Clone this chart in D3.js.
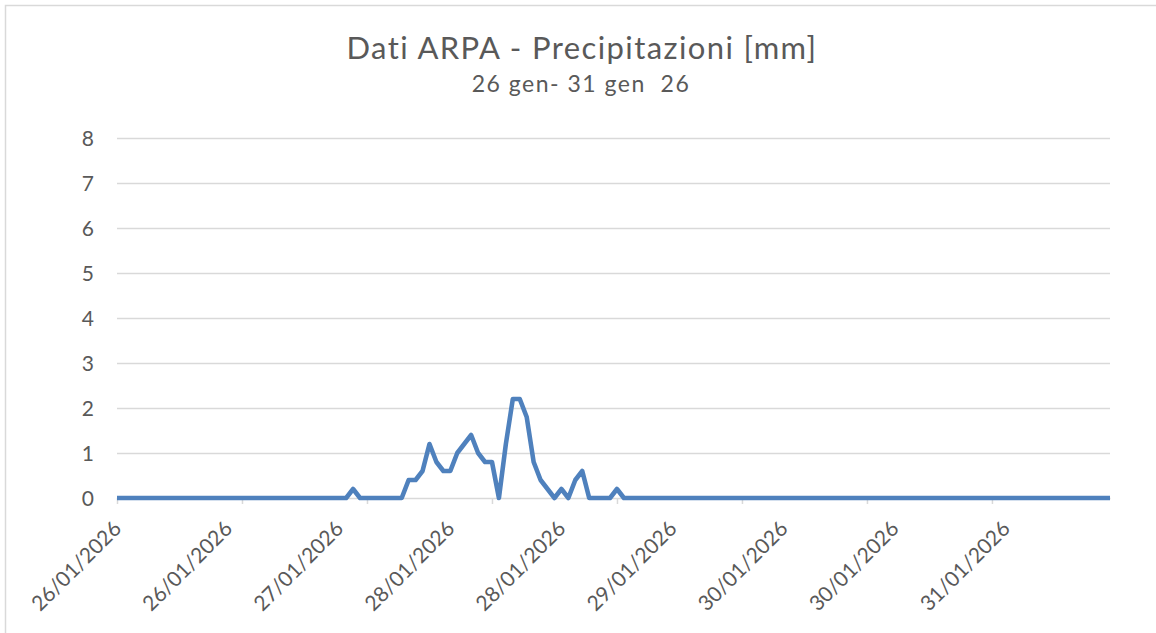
<!DOCTYPE html>
<html>
<head>
<meta charset="utf-8">
<script src="https://cdn.jsdelivr.net/npm/d3@7"></script>
<style>
  html, body { margin: 0; padding: 0; background: #fff; }
  svg text { font-family: Lato, "Open Sans", sans-serif; fill: #595959; }
</style>
</head>
<body>
<div id="chart"></div>
<script>
// hourly rain (mm), 26/01/2026 00:00 -> 31/01/2026 23:00, one row per day
const precip = [
  0, 0, 0, 0, 0, 0, 0, 0, 0, 0, 0, 0, 0, 0, 0, 0, 0, 0, 0, 0, 0, 0, 0, 0,
  0, 0, 0, 0, 0, 0, 0, 0, 0, 0, 0.2, 0, 0, 0, 0, 0, 0, 0, 0.4, 0.4, 0.6, 1.2, 0.8, 0.6,
  0.6, 1.0, 1.2, 1.4, 1.0, 0.8, 0.8, 0, 1.2, 2.2, 2.2, 1.8, 0.8, 0.4, 0.2, 0, 0.2, 0, 0.4, 0.6, 0, 0, 0, 0,
  0.2, 0, 0, 0, 0, 0, 0, 0, 0, 0, 0, 0, 0, 0, 0, 0, 0, 0, 0, 0, 0, 0, 0, 0,
  0, 0, 0, 0, 0, 0, 0, 0, 0, 0, 0, 0, 0, 0, 0, 0, 0, 0, 0, 0, 0, 0, 0, 0,
  0, 0, 0, 0, 0, 0, 0, 0, 0, 0, 0, 0, 0, 0, 0, 0, 0, 0, 0, 0, 0, 0, 0, 0
];
const startDate = new Date(2026, 0, 26, 0, 0);
const categories = precip.map((d, i) => d3.timeHour.offset(startDate, i));
const yTicks = [0, 1, 2, 3, 4, 5, 6, 7, 8];
const titleText = 'Dati ARPA - Precipitazioni [mm]';
const subtitleText = '26 gen- 31 gen  26';
const labelEvery = 16;   // category labels
const tickEvery = 18;    // category tick marks

const width = 1156;
const height = 633;
const margin = { top: 138, right: 46, bottom: 135, left: 117 };
const lineColor = '#4f81bd';
const gridColor = '#d9d9d9';

const svg = d3.select('#chart')
  .append('svg')
  .attr('width', width)
  .attr('height', height);

// chart area border
svg.append('rect')
  .attr('x', 5.5)
  .attr('y', 5.5)
  .attr('width', width + 20)
  .attr('height', height + 20)
  .attr('fill', 'none')
  .attr('stroke', gridColor)
  .attr('stroke-width', 1.5);

// titles
svg.append('text')
  .attr('x', 582)
  .attr('y', 59)
  .attr('text-anchor', 'middle')
  .style('font-size', '31px')
  .style('letter-spacing', '1.4px')
  .text(titleText);

svg.append('text')
  .attr('x', 581)
  .attr('y', 92)
  .attr('text-anchor', 'middle')
  .style('font-size', '23px')
  .style('letter-spacing', '1.5px')
  .style('white-space', 'pre')
  .attr('xml:space', 'preserve')
  .text(subtitleText);

const x = d3.scalePoint()
  .domain(categories)
  .range([margin.left, width - margin.right]);

const y = d3.scaleLinear()
  .domain([0, 8])
  .range([height - margin.bottom, margin.top]);

// gridlines
svg.append('g')
  .attr('class', 'grid')
  .attr('transform', `translate(${margin.left}, 0)`)
  .call(d3.axisLeft(y).tickValues(yTicks.slice(1)).tickSize(-(width - margin.right - margin.left)).tickFormat(''))
  .call(g => g.select('.domain').remove())
  .call(g => g.selectAll('line').attr('stroke', gridColor).attr('stroke-width', 1.3));

// y labels
svg.append('g')
  .attr('class', 'axis y')
  .attr('transform', `translate(${margin.left}, 0)`)
  .call(d3.axisLeft(y).tickValues(yTicks).tickSize(0).tickPadding(23).tickFormat(d3.format('d')))
  .call(g => g.select('.domain').remove())
  .call(g => g.selectAll('text')
    .attr('dy', '0.35em')
    .style('font-size', '21px')
    .style('font-family', 'Lato, sans-serif')
    .attr('fill', '#595959'));

// x axis line + tick marks
svg.append('g')
  .attr('class', 'axis x')
  .attr('transform', `translate(0, ${y(0)})`)
  .call(d3.axisBottom(x)
    .tickValues(categories.filter((d, i) => i % tickEvery === 0))
    .tickSize(6)
    .tickSizeOuter(0)
    .tickFormat(''))
  .call(g => g.select('.domain').attr('stroke', gridColor).attr('stroke-width', 1.5))
  .call(g => g.selectAll('.tick line').attr('stroke', gridColor).attr('stroke-width', 1.5));

// x labels
const fmt = d3.timeFormat('%d/%m/%Y');
svg.append('g')
  .attr('class', 'axis x labels')
  .attr('transform', `translate(0, ${y(0)})`)
  .call(d3.axisBottom(x)
    .tickValues(categories.filter((d, i) => i % labelEvery === 0))
    .tickSize(0)
    .tickFormat(fmt))
  .call(g => g.select('.domain').remove())
  .call(g => g.selectAll('text')
    .attr('x', 0)
    .attr('y', 0)
    .attr('dy', 0)
    .attr('text-anchor', 'end')
    .attr('transform', 'translate(5, 32) rotate(-45)')
    .style('font-size', '21px')
    .style('font-family', 'Lato, sans-serif')
    .attr('fill', '#595959'));

// series line
const line = d3.line()
  .x((d, i) => x(categories[i]))
  .y(d => y(d));

svg.append('path')
  .datum(precip)
  .attr('fill', 'none')
  .attr('stroke', lineColor)
  .attr('stroke-width', 4.6)
  .attr('stroke-linejoin', 'round')
  .attr('stroke-linecap', 'butt')
  .attr('d', line);
</script>
</body>
</html>
